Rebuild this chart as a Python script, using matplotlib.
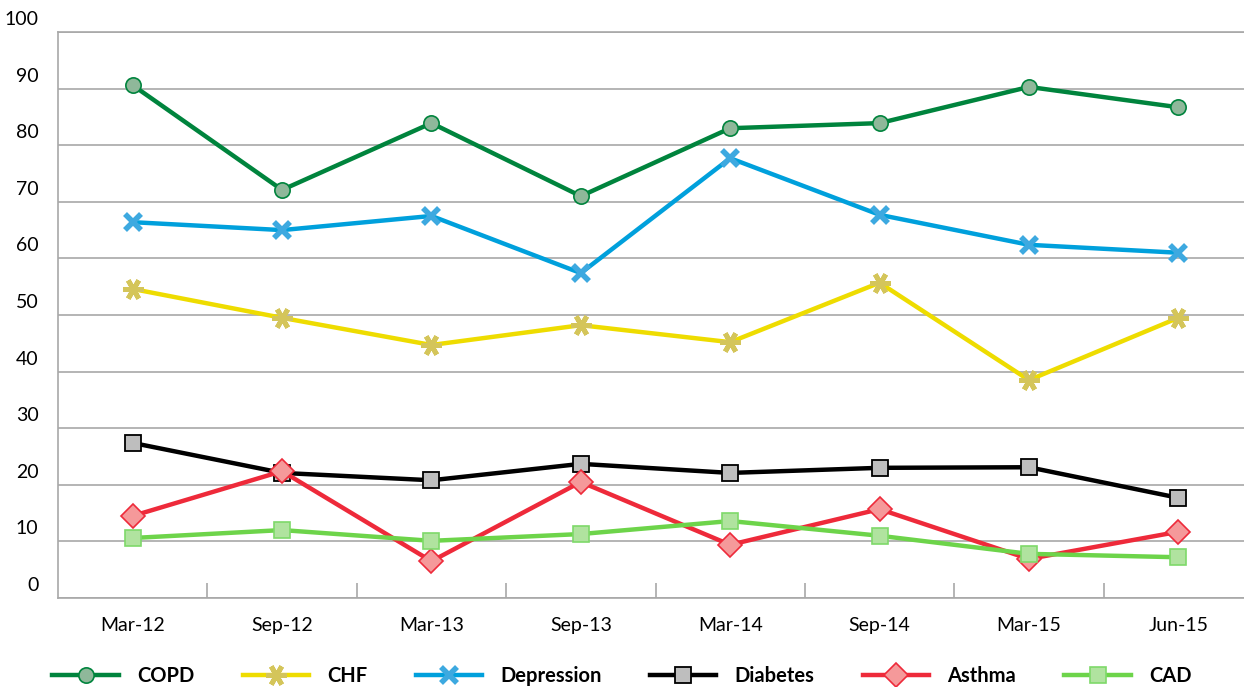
import numpy as np
import matplotlib
matplotlib.use("Agg")
import matplotlib.pyplot as plt
from matplotlib.transforms import ScaledTranslation

plt.rcParams['font.family'] = ['Lato', 'DejaVu Sans']

dates = ['Mar-12', 'Sep-12', 'Mar-13', 'Sep-13', 'Mar-14', 'Sep-14', 'Mar-15', 'Jun-15']
copd = [90.6, 72.1, 83.9, 71.0, 83.0, 83.9, 90.3, 86.7]
chf = [54.6, 49.5, 44.7, 48.2, 45.2, 55.7, 38.5, 49.5]
depression = [66.4, 65.0, 67.5, 57.4, 77.7, 67.7, 62.4, 61.0]
diabetes = [27.4, 22.1, 20.8, 23.7, 22.1, 23.0, 23.1, 17.7]
asthma = [14.5, 22.4, 6.5, 20.5, 9.4, 15.7, 6.9, 11.7]
cad = [10.6, 12.0, 10.1, 11.3, 13.6, 11.0, 7.8, 7.2]

x = np.arange(len(dates))

fig = plt.figure(figsize=(12.44, 6.87), dpi=100)
ax = fig.add_axes([58/1244, 89/687, 1195/1244, 566/687])

ax.plot(x, copd, color='#00843D', lw=3.2, marker='o', ms=11,
        mfc='#8FB89A', mec='#00843D', mew=1.2, label='COPD', zorder=3)
ax.plot(x, chf, color='#EEDC00', lw=3.2, marker=(6, 2, 90), ms=15,
        mec='#D4C55A', mew=3.5, label='CHF', zorder=3)
ax.plot(x, depression, color='#00A0DC', lw=3.2, marker='x', ms=11,
        mec='#3DA9E0', mew=4, label='Depression', zorder=3)
ax.plot(x, diabetes, color='black', lw=3.2, marker='s', ms=11,
        mfc='#BEBEBE', mec='black', mew=1.3, label='Diabetes', zorder=3)
ax.plot(x, asthma, color='#EE2A3A', lw=3.2, marker='D', ms=12,
        mfc='#F5999A', mec='#EE2A3A', mew=1.2, label='Asthma', zorder=3)
ax.plot(x, cad, color='#6DD44A', lw=3.2, marker='s', ms=11,
        mfc='#B0E39F', mec='#7ED96A', mew=1.2, label='CAD', zorder=3)

ax.set_xlim(-0.5, 7.5)
ax.set_ylim(0, 100)
ax.set_yticks(np.arange(0, 101, 10))
ax.grid(axis='y', color='#A8A8A8', lw=1.2)
ax.set_axisbelow(True)

ax.set_xticks(x)
ax.set_xticklabels(dates)
ax.set_xticks(np.arange(0.5, 7, 1), minor=True)
ax.tick_params(axis='x', which='major', length=0, pad=14, labelsize=14)
ax.tick_params(axis='x', which='minor', direction='in', length=11, width=1.2, color='#A8A8A8')
ax.tick_params(axis='y', length=0, pad=14, labelsize=14)

for lab in ax.get_yticklabels():
    lab.set_transform(lab.get_transform() + ScaledTranslation(0, 0.14, fig.dpi_scale_trans))

for s in ax.spines.values():
    s.set_color('#A8A8A8')
    s.set_linewidth(1.2)

leg = fig.legend(loc='lower center', bbox_to_anchor=(0.5, -0.025), ncol=6, frameon=False,
                 prop={'weight': 'bold', 'size': 14.5}, handlelength=3.3, columnspacing=2.4,
                 handletextpad=0.9)

fig.savefig('out.png', dpi=100)
